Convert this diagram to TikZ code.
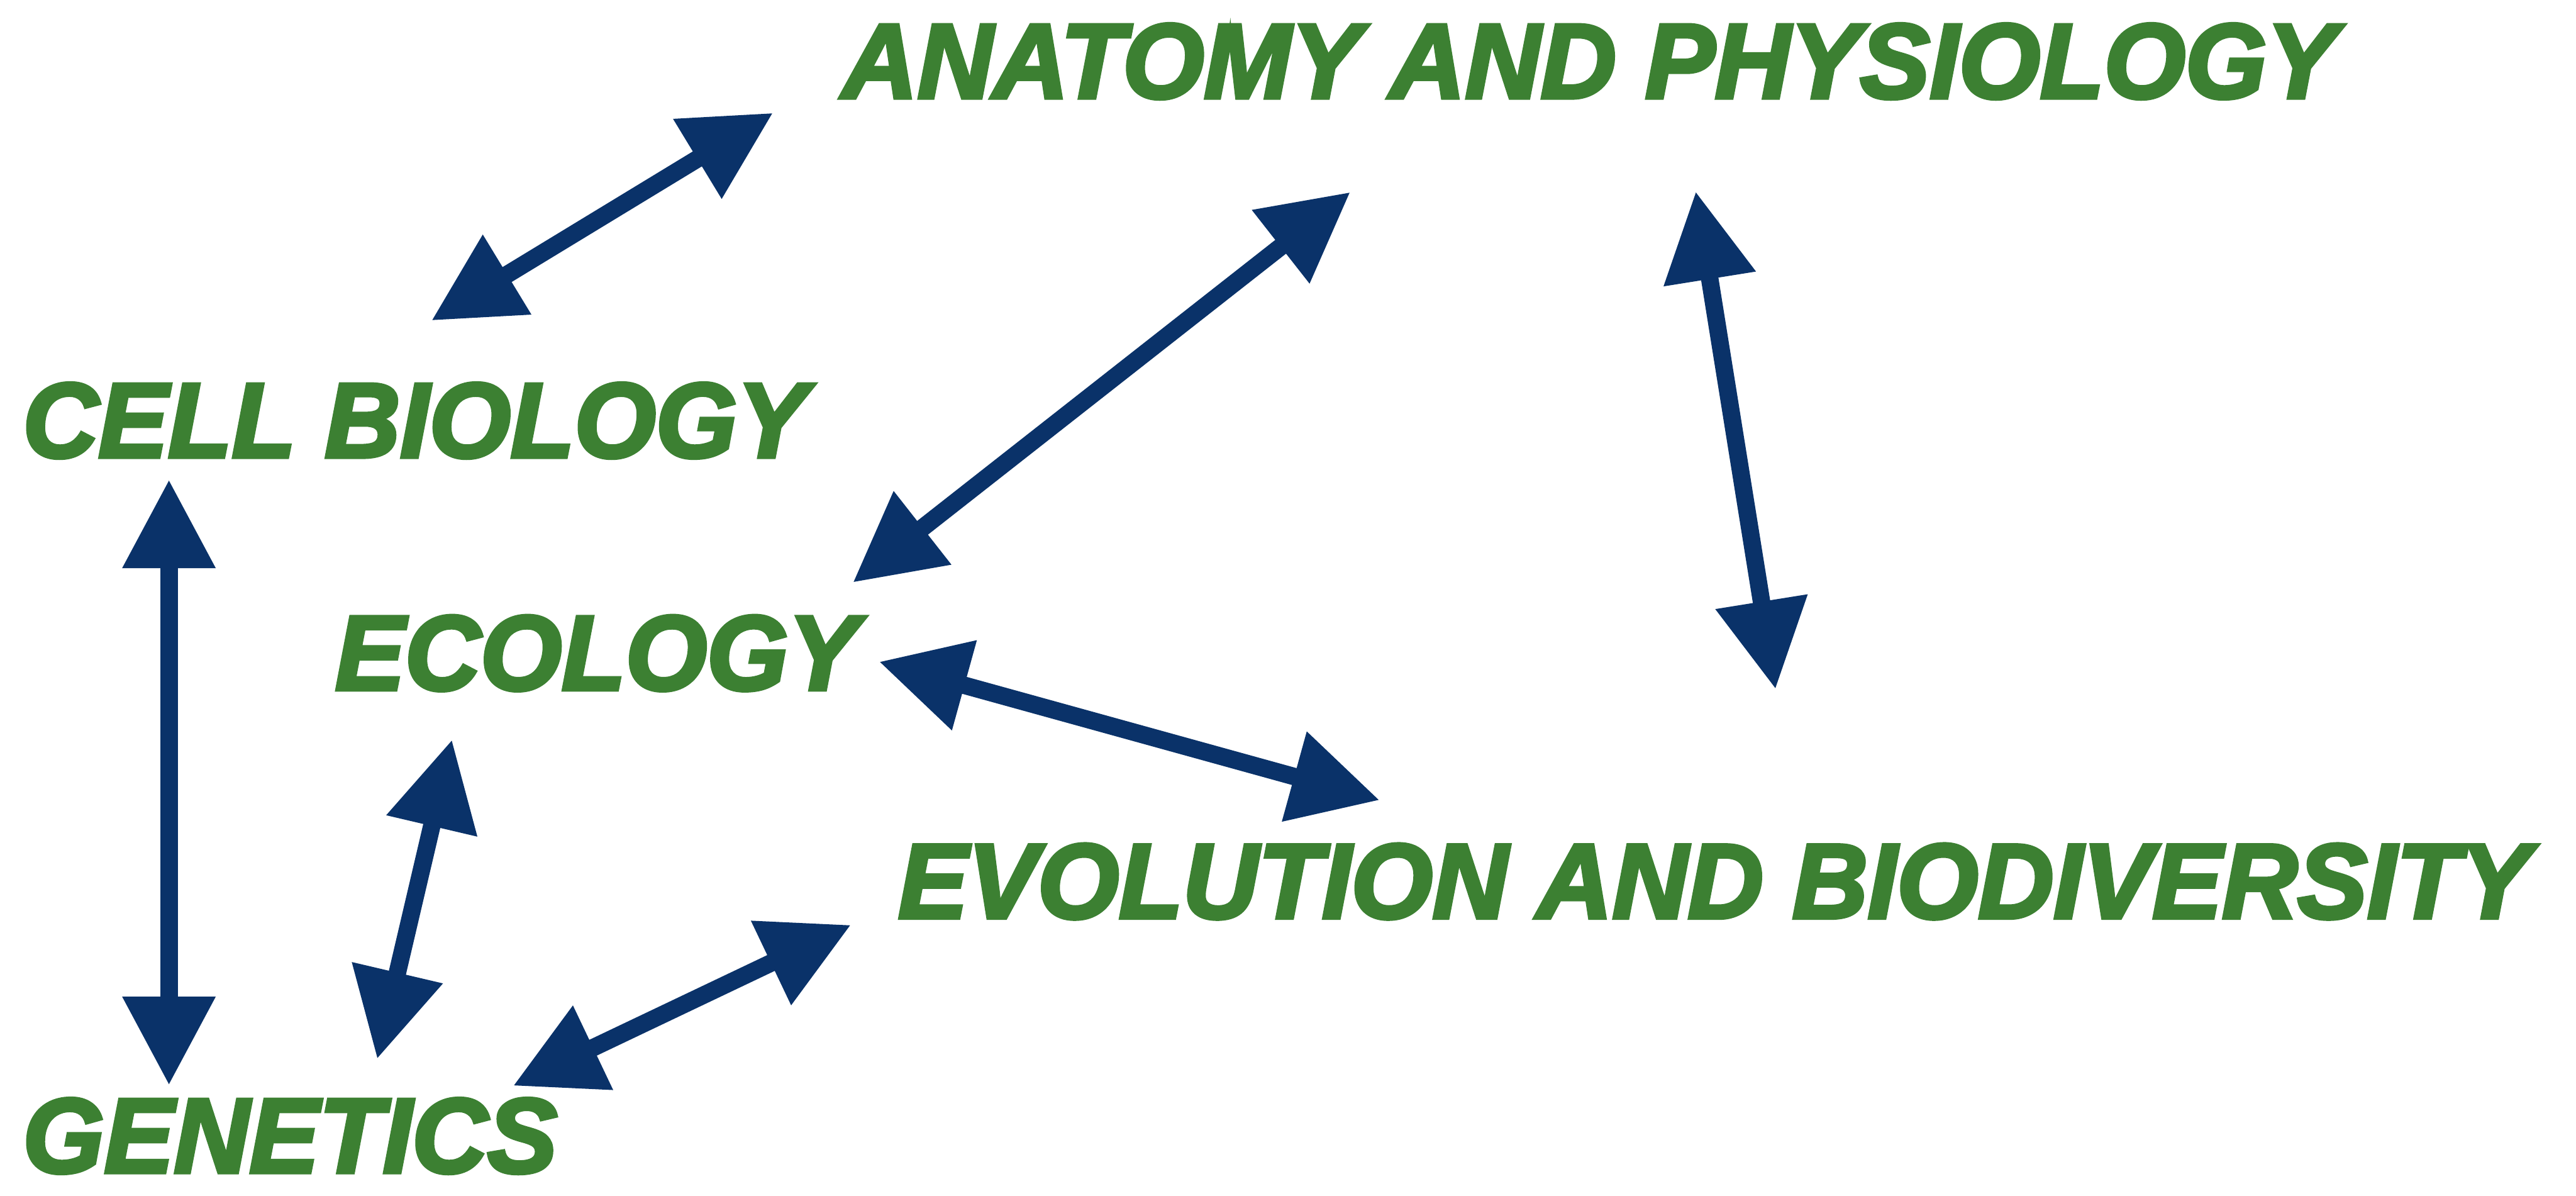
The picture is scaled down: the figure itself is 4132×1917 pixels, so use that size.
\documentclass[tikz,border=0pt]{standalone}
\usepackage{fontspec}
\setmainfont{Liberation Sans}
\newfontfamily\topicfont[FakeBold=3.5,FakeStretch=0.985]{Liberation Sans Bold Italic}
\usetikzlibrary{arrows.meta}
\definecolor{labelgreen}{RGB}{60,128,50}
\definecolor{arrowblue}{RGB}{10,50,105}
\tikzset{
  topic/.style={anchor=base west, inner sep=0pt, text depth=0pt, text=labelgreen,
    font=\fontsize{48.4}{58}\topicfont},
  link/.style={draw=arrowblue, line width=0.28cm,
    {Triangle[length=1.42cm,width=1.42cm]}-{Triangle[length=1.42cm,width=1.42cm]},
    fill=arrowblue}
}
\begin{document}
\begin{tikzpicture}[x=0.01cm,y=-0.01cm]
\useasboundingbox (0,0) rectangle (4132,1917);
\fill[white] (0,0) rectangle (4132,1917);
% labels
\node[topic] (anat) at (1350,157) {ANATOMY AND PHYSIOLOGY};
\node[topic] (cell) at (36,733) {CELL BIOLOGY};
\node[topic] (eco)  at (537,1106) {ECOLOGY};
\node[topic] (evo)  at (1440,1472) {EVOLUTION AND BIODIVERSITY};
\node[topic] (gen)  at (36,1880) {GENETICS};
% arrow ends
\coordinate (cellA) at (692,514);
\coordinate (anatC) at (1240,181);
\coordinate (anatE) at (2166,308);
\coordinate (ecoA)  at (1368,934);
\coordinate (anatV) at (2720,307);
\coordinate (evoA)  at (2848,1105);
\coordinate (ecoV)  at (1410,1061);
\coordinate (evoE)  at (2213,1283);
\coordinate (cellG) at (271,769);
\coordinate (genC)  at (271,1740);
\coordinate (ecoG)  at (725,1186);
\coordinate (genE)  at (605,1698);
\coordinate (genV)  at (823,1741);
\coordinate (evoG)  at (1365,1483);
% connectors
\draw[link] (cellA) -- (anatC);
\draw[link] (anatE) -- (ecoA);
\draw[link] (anatV) -- (evoA);
\draw[link] (ecoV) -- (evoE);
\draw[link] (cellG) -- (genC);
\draw[link] (ecoG) -- (genE);
\draw[link] (genV) -- (evoG);
\end{tikzpicture}
\end{document}
